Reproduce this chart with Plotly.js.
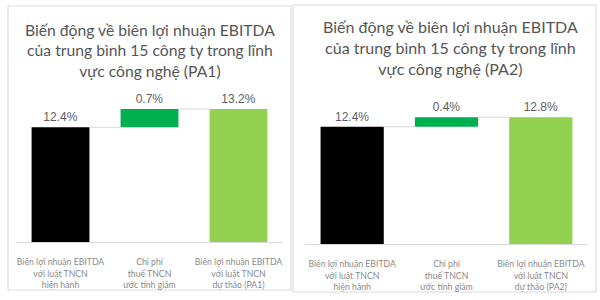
<!DOCTYPE html>
<html>
<head>
<meta charset="utf-8">
<script src="https://cdn.plot.ly/plotly-3.0.1.min.js"></script>
<style>html,body{margin:0;padding:0;background:#fff;}#chart{width:600px;height:300px;}</style>
</head>
<body>
<div id="chart"></div>
<script>
// ---- data ----
const categoriesPA1 = ["Biên lợi nhuận EBITDA<br>với luật TNCN<br>hiện hành", "Chi phí<br>thuế TNCN<br>ước tính giảm", "Biên lợi nhuận EBITDA<br>với luật TNCN<br>dự thảo (PA1)"];
const categoriesPA2 = ["Biên lợi nhuận EBITDA<br>với luật TNCN<br>hiện hành", "Chi phí<br>thuế TNCN<br>ước tính giảm", "Biên lợi nhuận EBITDA<br>với luật TNCN<br>dự thảo (PA2)"];
const startPA1 = 12.44;   // %
const changePA1 = 0.73;   // %
const startPA2 = 12.44;   // %
const changePA2 = 0.38;   // %
const titlePA1 = "Biến động về biên lợi nhuận EBITDA<br>của trung bình 15 công ty trong lĩnh<br>vực công nghệ (PA1)";
const titlePA2 = "Biến động về biên lợi nhuận EBITDA<br>của trung bình 15 công ty trong lĩnh<br>vực công nghệ (PA2)";
const barColors = ["#000000", "#00b050", "#92d050"];

function panel(start, change, xa, ya, width) {
  const total = start + change;
  const vals = [start, change, total];
  const bases = [0, start, 0];
  const labels = vals.map(v => v.toFixed(1) + "%");
  const xs = [0, 1, 2];
  const bar = {
    type: "bar", x: xs, y: vals, base: bases, width: width,
    marker: {color: barColors, line: {width: 0}},
    text: labels, textposition: "outside", cliponaxis: false,
    textfont: {family: "Liberation Sans, Arial, sans-serif", size: 12, color: "#606060"},
    hoverinfo: "skip", xaxis: xa, yaxis: ya, showlegend: false
  };
  const h = width / 2;
  const conn1 = {type: "scatter", mode: "lines", x: [0 + h, 1 - h], y: [start, start],
    line: {color: "#d9d9d9", width: 1}, xaxis: xa, yaxis: ya, showlegend: false, hoverinfo: "skip"};
  const conn2 = {type: "scatter", mode: "lines", x: [1 + h, 2 - h], y: [total, total],
    line: {color: "#d9d9d9", width: 1}, xaxis: xa, yaxis: ya, showlegend: false, hoverinfo: "skip"};
  return [conn1, conn2, bar];
}

const traces = [].concat(
  panel(startPA1, changePA1, "x", "y", 0.65),
  panel(startPA2, changePA2, "x2", "y2", 0.67)
);

const tickFont = {family: "Lato, Open Sans, sans-serif", size: 8.7, color: "#8a8a8a"};
const xCommon = {range: [-0.5, 2.5], tickvals: [0, 1, 2], showline: true, linecolor: "#d9d9d9", linewidth: 1,
  showgrid: false, zeroline: false, ticks: "", tickfont: tickFont, ticklabelstandoff: 12, fixedrange: true};
const yCommon = {showgrid: false, zeroline: false, showticklabels: false, showline: false, ticks: "", fixedrange: true};

const P = (px) => px / 600, Q = (py) => 1 - py / 300;

const layout = {
  width: 600, height: 300,
  margin: {l: 0, r: 0, t: 0, b: 0},
  paper_bgcolor: "#ffffff", plot_bgcolor: "rgba(0,0,0,0)",
  barmode: "overlay",
  xaxis: Object.assign({}, xCommon, {domain: [P(16), P(283)], ticktext: categoriesPA1, anchor: "y"}),
  yaxis: Object.assign({}, yCommon, {domain: [Q(242), Q(92)], range: [7.85, 13.85], anchor: "x"}),
  xaxis2: Object.assign({}, xCommon, {domain: [P(305), P(588)], ticktext: categoriesPA2, anchor: "y2"}),
  yaxis2: Object.assign({}, yCommon, {domain: [Q(244), Q(94)], range: [7.75, 13.75], anchor: "x2"}),
  shapes: [
    {type: "rect", xref: "paper", yref: "paper", x0: P(8), x1: P(291), y0: Q(290), y1: Q(6), line: {color: "#d9d9d9", width: 1}, layer: "below"},
    {type: "rect", xref: "paper", yref: "paper", x0: P(293), x1: P(596), y0: Q(292), y1: Q(5), line: {color: "#d9d9d9", width: 1}, layer: "below"}
  ],
  annotations: [
    {text: titlePA1, xref: "paper", yref: "paper", x: P(150), y: Q(19), xanchor: "center", yanchor: "top",
      showarrow: false, align: "center", font: {family: "Lato, sans-serif", size: 15.7, color: "#555555"}},
    {text: titlePA2, xref: "paper", yref: "paper", x: P(450), y: Q(15), xanchor: "center", yanchor: "top",
      showarrow: false, align: "center", font: {family: "Lato, sans-serif", size: 16, color: "#555555"}}
  ],
  font: {family: "Lato, sans-serif"}
};

Plotly.newPlot("chart", traces, layout, {displayModeBar: false, staticPlot: true});
</script>
</body>
</html>
